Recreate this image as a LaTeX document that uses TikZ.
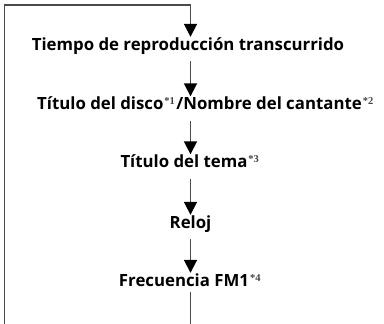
\documentclass[tikz,border=0pt]{standalone}
\usepackage{fontspec}
\setmainfont{Open Sans}
\newfontfamily\supfont{Liberation Serif}
\usetikzlibrary{arrows.meta}
\definecolor{linegray}{HTML}{4A4A4A}
\definecolor{supgray}{HTML}{444444}
\newcommand{\fn}[1]{\kern1pt\raisebox{4.8pt}{\supfont\fontsize{10.5pt}{10.5pt}\selectfont\color{supgray}*#1}\kern1.5pt}
\tikzset{
  stage/.style={anchor=base, font=\fontsize{16.8pt}{18pt}\selectfont\bfseries, inner xsep=0pt, inner ysep=0pt, text height=10pt, text depth=2pt},
  flow/.style={draw=linegray, line width=1.8pt, -{Triangle[width=13pt,length=13pt,color=black]}, shorten <=9pt, shorten >=3pt},
  plain/.style={draw=linegray, line width=1.8pt}
}
\begin{document}
\begin{tikzpicture}[x=1pt,y=1pt]
\useasboundingbox (0,0) rectangle (384,-324);
\coordinate (tl) at (4.5,-5);
\coordinate (tr) at (190.5,-5);
\coordinate (bl) at (4.5,-324);
\coordinate (br) at (190.5,-324);
\node[stage] (a) at (188,-50) {Tiempo de reproducción transcurrido};
\node[stage] (b) at (206,-109.5) {Título del disco\fn{1}/Nombre del cantante\fn{2}};
\node[stage] (c) at (190.5,-167.5) {Título del tema\fn{3}};
\node[stage] (d) at (190.5,-228) {Reloj};
\node[stage] (e) at (190.5,-286) {Frecuencia FM1\fn{4}};
\draw[plain] (bl) -- (tl) -- (tr);
\draw[flow, shorten <=0pt] (tr) -- (a.north -| tr);
\draw[flow] (a.south -| tr) -- (b.north -| tr);
\draw[flow] (b.south -| tr) -- (c.north -| tr);
\draw[flow] (c.south -| tr) -- (d.north -| tr);
\draw[flow] (d.south -| tr) -- (e.north -| tr);
\draw[plain, shorten <=4pt] (e.south -| tr) -- (br);
\end{tikzpicture}
\end{document}
